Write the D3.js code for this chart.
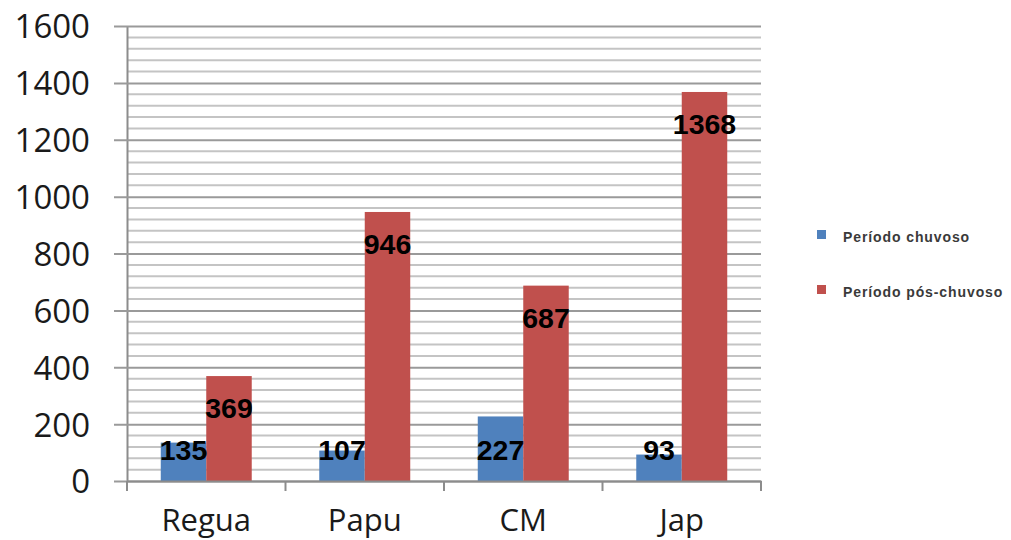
<!DOCTYPE html>
<html>
<head>
<meta charset="utf-8">
<script src="https://cdn.jsdelivr.net/npm/d3@7"></script>
<style>
  html, body { margin: 0; padding: 0; background: #fff; }
  svg { display: block; }
</style>
</head>
<body>
<svg id="chart" width="1011" height="540"></svg>
<script>
// Sites and the two sampling periods
const categories = ["Regua", "Papu", "CM", "Jap"];
const seriesNames = ["Período chuvoso", "Período pós-chuvoso"];
const rainy = [135, 107, 227, 93];
const postRainy = [369, 946, 687, 1368];
const yTicks = [0, 200, 400, 600, 800, 1000, 1200, 1400, 1600];
const colors = ["#4F81BD", "#C0504D"];

const svg = d3.select("#chart");
const plot = { left: 127, right: 761, top: 26, bottom: 481 };

const x0 = d3.scaleBand().domain(categories).range([plot.left, plot.right]).padding(0);
const bw = x0.bandwidth();
const groupW = bw * 0.574;
const x1 = d3.scaleBand().domain(seriesNames)
  .range([(bw - groupW) / 2, (bw + groupW) / 2]).padding(0);
const y = d3.scaleLinear().domain([0, 1600]).range([plot.bottom, plot.top]);

// Minor gridlines every 40
const minor = d3.range(40, 1600, 40).filter(v => v % 200 !== 0);
svg.append("g").selectAll("line").data(minor).join("line")
  .attr("x1", plot.left).attr("x2", plot.right)
  .attr("y1", d => y(d)).attr("y2", d => y(d))
  .attr("stroke", "#c4c4c4").attr("stroke-width", 2);

// Major gridlines with the left axis
const yAxis = d3.axisLeft(y).tickValues(yTicks).tickFormat(d3.format("d"))
  .tickSize(-(plot.right - plot.left)).tickSizeOuter(0).tickPadding(37);
const gy = svg.append("g").attr("transform", `translate(${plot.left},0)`).call(yAxis);
gy.select(".domain").attr("stroke", "#8c8c8c").attr("stroke-width", 2);
gy.selectAll(".tick line").attr("stroke", "#9a9a9a").attr("stroke-width", 2).attr("x1", -13);
gy.selectAll(".tick text")
  .attr("font-family", "'Open Sans', sans-serif").attr("font-size", 33)
  .attr("fill", "#1a1a1a").attr("dy", "0.36em");

// Bars
const rows = categories.map((c, i) => ({ cat: c, vals: [rainy[i], postRainy[i]] }));
const groups = svg.append("g").selectAll("g").data(rows).join("g")
  .attr("transform", d => `translate(${x0(d.cat)},0)`);
groups.selectAll("rect")
  .data(d => d.vals.map((v, k) => ({ k, v })))
  .join("rect")
  .attr("x", d => x1(seriesNames[d.k]))
  .attr("width", x1.bandwidth())
  .attr("y", d => y(d.v))
  .attr("height", d => y(0) - y(d.v))
  .attr("fill", d => colors[d.k]);

// X axis
const xAxis = d3.axisBottom(x0).tickSize(0).tickPadding(28);
const gx = svg.append("g").attr("transform", `translate(0,${plot.bottom})`).call(xAxis);
gx.select(".domain").attr("stroke", "#8c8c8c").attr("stroke-width", 2);
gx.selectAll(".tick text")
  .attr("font-family", "'Open Sans', sans-serif").attr("font-size", 31)
  .attr("fill", "#1a1a1a");
// Category separator ticks
const bounds = categories.map(c => x0(c)).concat([plot.right]);
svg.append("g").selectAll("line").data(bounds).join("line")
  .attr("x1", d => d).attr("x2", d => d)
  .attr("y1", plot.bottom).attr("y2", plot.bottom + 10)
  .attr("stroke", "#8c8c8c").attr("stroke-width", 2);

// Value labels
groups.selectAll("text.val")
  .data(d => d.vals.map((v, k) => ({ k, v })))
  .join("text").attr("class", "val")
  .attr("x", d => x1(seriesNames[d.k]) + x1.bandwidth() / 2)
  .attr("y", d => d.k === 0 ? y(0) - 21 : y(d.v) + 42)
  .attr("text-anchor", "middle")
  .attr("font-family", "'Liberation Sans', Arial, sans-serif")
  .attr("font-weight", "bold").attr("font-size", 28.5)
  .attr("fill", "#000")
  .text(d => d.v);

// Legend
const legend = svg.append("g").selectAll("g").data(seriesNames).join("g")
  .attr("transform", (d, i) => `translate(817,${230 + i * 55})`);
legend.append("rect").attr("width", 9).attr("height", 9)
  .attr("fill", (d, i) => colors[i]);
legend.append("text").attr("x", 26).attr("y", 12)
  .attr("font-family", "'Liberation Sans', Arial, sans-serif")
  .attr("font-weight", "bold").attr("font-size", 14)
  .attr("letter-spacing", 0.9)
  .attr("fill", "#3a3a3a")
  .text(d => d);
</script>
</body>
</html>
